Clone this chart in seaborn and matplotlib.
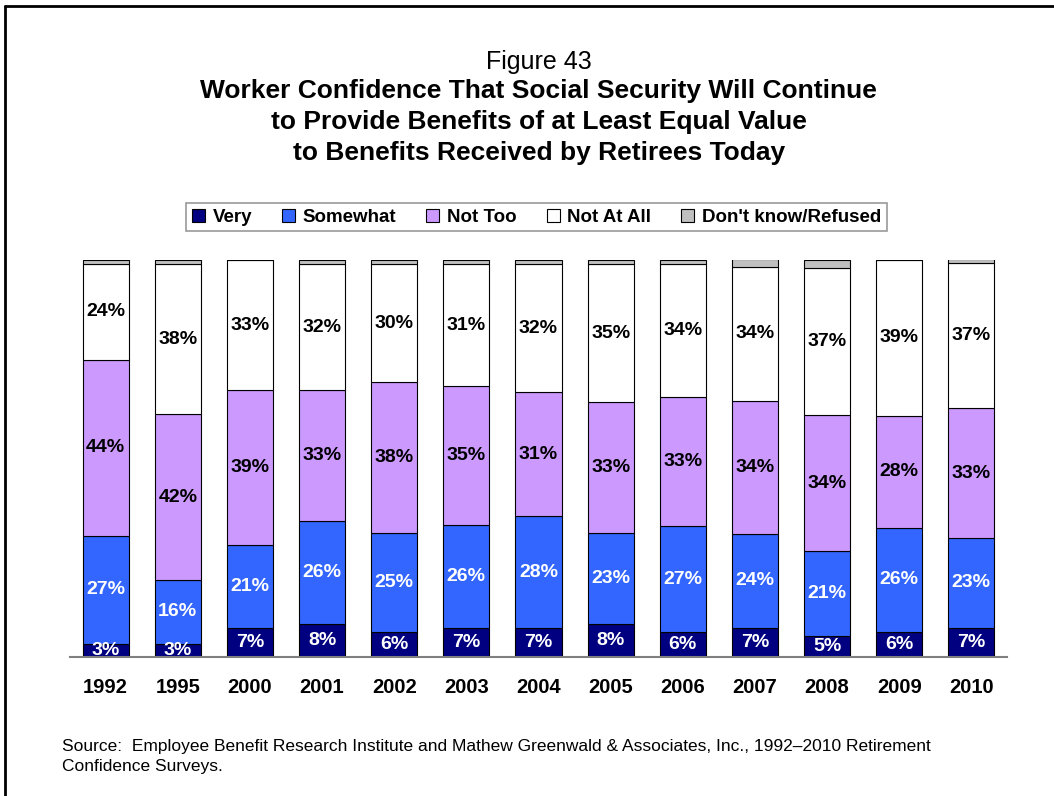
import numpy as np
import pandas as pd
import matplotlib
matplotlib.use("Agg")
import matplotlib.pyplot as plt
from matplotlib.patches import Patch
from matplotlib.lines import Line2D
import seaborn as sns

# Data (percent of workers; labels round these)
years = ["1992", "1995", "2000", "2001", "2002", "2003", "2004",
         "2005", "2006", "2007", "2008", "2009", "2010"]
very = [3.3, 3.4, 7.3, 8.3, 6.3, 7.3, 7.3, 8.3, 6.3, 7.3, 5.4, 6.3, 7.3]
somewhat = [27.2, 15.9, 20.9, 25.9, 24.9, 25.9, 28.2, 22.9, 26.6, 23.7,
            21.2, 26.2, 22.7]
not_too = [44.3, 41.8, 39.0, 33.0, 38.0, 35.0, 31.2, 33.0, 32.6, 33.6,
           34.3, 28.2, 32.6]
not_at_all = [24.2, 37.8, 32.7, 31.7, 29.7, 30.7, 32.2, 34.8, 33.6, 33.6,
              37.0, 39.3, 36.6]
dont_know = [1.0, 1.0, 0.0, 1.0, 1.0, 1.0, 1.0, 1.0, 1.0, 2.0, 2.0, 0.0, 1.0]

series = ["Very", "Somewhat", "Not Too", "Not At All", "Don't know/Refused"]
colors = ["#000080", "#3366FF", "#CC99FF", "#FFFFFF", "#C0C0C0"]
text_colors = ["white", "white", "black", "black", None]

FONT = ["Liberation Sans", "DejaVu Sans"]


def main():
    sns.set_style("white")
    plt.rcParams["font.family"] = FONT
    plt.rcParams["text.color"] = "black"
    plt.rcParams["xtick.color"] = "black"
    plt.rcParams["xtick.labelcolor"] = "black"

    df = pd.DataFrame({"year": years, "Very": very, "Somewhat": somewhat,
                       "Not Too": not_too, "Not At All": not_at_all,
                       "Don't know/Refused": dont_know})

    fig = plt.figure(figsize=(10.54, 7.96), dpi=100)
    ax = fig.add_axes([0.066, 0.1746, 0.8898, 0.4988])

    bottom = np.zeros(len(years))
    for name, col, tcol in zip(series, colors, text_colors):
        vals = df[name].to_numpy(dtype=float)
        sns.barplot(data=df, x="year", y=name, bottom=bottom, color=col,
                    saturation=1, width=0.64, edgecolor="black",
                    linewidth=0.8, errorbar=None, ax=ax)
        if tcol is not None:
            for i, v in enumerate(vals):
                ax.text(i, bottom[i] + v / 2, f"{v:.0f}%", ha="center",
                        va="center", color=tcol, fontsize=14,
                        fontweight="bold", clip_on=True)
        bottom += vals

    ax.set_xlim(-0.5, len(years) - 0.5)
    ax.set_ylim(0, 100)
    ax.set_xlabel("")
    ax.set_ylabel("")
    ax.set_yticks([])
    sns.despine(ax=ax, left=True)
    ax.spines["bottom"].set_color("#808080")
    ax.spines["bottom"].set_linewidth(1.5)
    ax.tick_params(axis="x", length=0, pad=15, labelcolor="black")
    for lab in ax.get_xticklabels():
        lab.set_fontsize(14.5)
        lab.set_fontweight("bold")

    # Titles
    fig.text(0.511, 0.913, "Figure 43", ha="center", va="baseline",
             fontsize=18, color="black")
    title_lines = ["Worker Confidence That Social Security Will Continue",
                   "to Provide Benefits of at Least Equal Value",
                   "to Benefits Received by Retirees Today"]
    for k, line in enumerate(title_lines):
        fig.text(0.511, 0.886 - k * 0.039, line, ha="center", va="center",
                 fontsize=19, fontweight="bold", color="black")

    # Legend
    handles = [Patch(facecolor=c, edgecolor="black", linewidth=0.8)
               for c in colors]
    leg = fig.legend(handles, series, loc="center", ncol=5,
                     bbox_to_anchor=(0.509, 0.727), frameon=True,
                     fancybox=False, edgecolor="#808080",
                     prop={"weight": "bold", "size": 13.5},
                     handlelength=0.7, handleheight=0.7, handletextpad=0.4,
                     columnspacing=1.6, borderpad=0.3, labelcolor="black")
    leg.get_frame().set_linewidth(1.2)

    # Source note
    fig.text(0.059, 0.050, "Source:  Employee Benefit Research Institute and "
             "Mathew Greenwald & Associates, Inc., 1992\u20132010 Retirement\n"
             "Confidence Surveys.", ha="left", va="center", fontsize=12.5,
             linespacing=1.4, color="black")

    # Page frame (left and top edges)
    fig.add_artist(Line2D([0.0045, 0.0045], [0, 0.993], color="black",
                          lw=2, transform=fig.transFigure))
    fig.add_artist(Line2D([0.0045, 1.0], [0.993, 0.993], color="black",
                          lw=2, transform=fig.transFigure))

    fig.savefig("out.png", dpi=100)
    plt.close(fig)


if __name__ == "__main__":
    main()
